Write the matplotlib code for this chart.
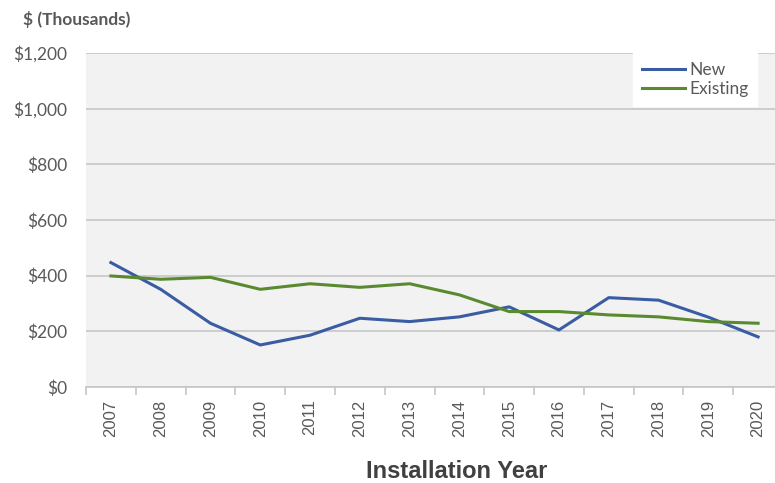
import matplotlib.pyplot as plt
import numpy as np

# ====== DATA ======
years = ["2007", "2008", "2009", "2010", "2011", "2012", "2013",
         "2014", "2015", "2016", "2017", "2018", "2019", "2020"]
new_vals = [447, 351, 229, 151, 186, 247, 235, 252, 288, 205, 321, 312, 251, 180]
existing_vals = [399, 387, 394, 351, 371, 358, 371, 331, 271, 271, 259, 252, 235, 229]
y_ticks = [0, 200, 400, 600, 800, 1000, 1200]
y_labels = ["$0", "$200", "$400", "$600", "$800", "$1,000", "$1,200"]
# ==================

BLUE = "#3a5ca3"
GREEN = "#5a8a2f"
TXT = "#595959"
FONT = "Lato"

fig = plt.figure(figsize=(7.75, 4.83), dpi=100)
ax = fig.add_axes([86 / 775, 1 - 387 / 483, 697 / 775, 334 / 483])
ax.set_facecolor("#f2f2f2")

x = np.arange(len(years))
ax.plot(x, new_vals, color=BLUE, lw=2.2, label="New")
ax.plot(x, existing_vals, color=GREEN, lw=2.2, label="Existing")

ax.set_xlim(-0.5, len(years) - 0.5)
ax.set_ylim(0, 1200)
ax.set_yticks(y_ticks)
ax.set_yticklabels(y_labels, fontsize=12.5, color=TXT, family=FONT)
ax.yaxis.grid(True, color="#c6c6c6", lw=1.2)
ax.set_axisbelow(True)
ax.tick_params(axis="y", length=0, pad=13.5)

ax.set_xticks(x)
ax.set_xticklabels(years, rotation=90, fontsize=12, color=TXT, family="Liberation Sans")
ax.set_xticks(np.arange(-0.5, len(years)), minor=True)
ax.tick_params(axis="x", which="major", length=0, pad=9)
ax.tick_params(axis="x", which="minor", length=6, color="#c6c6c6", width=1.2)

for s in ["top", "right", "left"]:
    ax.spines[s].set_visible(False)
ax.spines["bottom"].set_color("#c6c6c6")
ax.spines["bottom"].set_linewidth(1.2)

fig.text(23 / 775, 1 - 20 / 483, "$ (Thousands)", fontsize=12.5, fontweight="bold",
         color=TXT, family=FONT, va="center", ha="left")
fig.text(457 / 775, 1 - 472 / 483, "Installation Year", fontsize=17, fontweight="bold",
         color="#404040", family="Liberation Sans", va="center", ha="center")

leg = ax.legend(loc="upper left", bbox_to_anchor=(633 / 775, 1 - 53 / 483),
                bbox_transform=fig.transFigure, frameon=True, fancybox=False,
                borderaxespad=0, handlelength=2.5, handletextpad=0.25,
                labelspacing=0.2, borderpad=0.5, prop={"family": FONT, "size": 12.5})
leg.get_frame().set_facecolor("white")
leg.get_frame().set_edgecolor("white")
leg.get_frame().set_alpha(1)
for t in leg.get_texts():
    t.set_color(TXT)

fig.savefig("out.png", dpi=100)
